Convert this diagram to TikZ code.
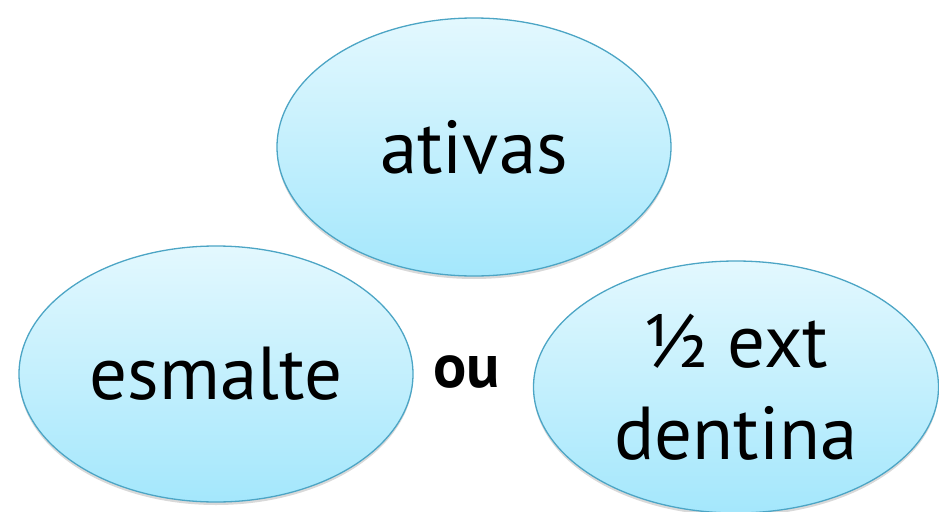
\documentclass[tikz,border=0pt]{standalone}
\usepackage{fontspec}
\setmainfont{PT Sans}
\usetikzlibrary{shapes,shadows}
\definecolor{bubbletop}{HTML}{E3F8FE}
\definecolor{bubblebot}{HTML}{A4E7FC}
\definecolor{bubbleline}{HTML}{4CA5C5}
\tikzset{
    bubble/.style={ellipse, draw=bubbleline, line width=1.3pt,
        top color=bubbletop, bottom color=bubblebot,
        drop shadow={opacity=0.3, shadow xshift=0pt, shadow yshift=-3pt},
        inner sep=0pt, align=center,
        font=\fontsize{75}{92}\selectfont},
}

\begin{document}
\begin{tikzpicture}[x=1pt, y=-1pt]
    \useasboundingbox (0,0) rectangle (939,511);

    \node[bubble, minimum width=394pt, minimum height=258pt] (ativas) at (474,147) {ativas};
    \node[bubble, minimum width=394pt, minimum height=256pt] (esmalte) at (216,374) {esmalte};
    \node[bubble, minimum width=405pt, minimum height=252pt] (dentina) at (736,387) {½ ext\\dentina};

    \node[font=\fontsize{62}{70}\selectfont\bfseries] (ou) at (467,372) {ou};
\end{tikzpicture}
\end{document}
